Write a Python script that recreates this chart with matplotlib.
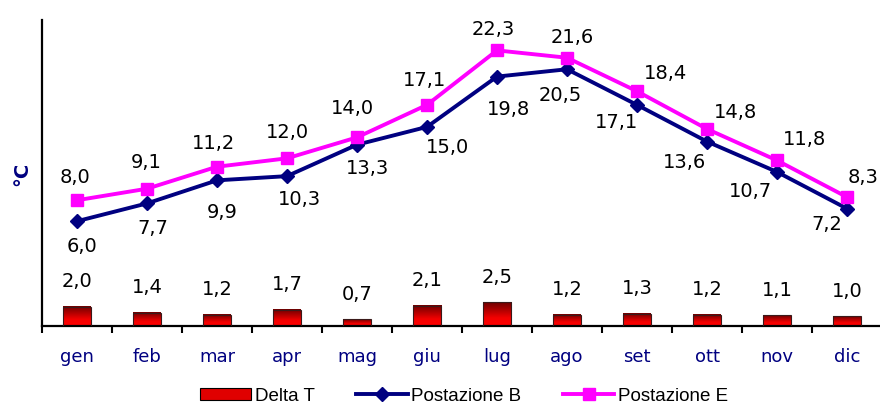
import numpy as np
import matplotlib
matplotlib.use("Agg")
import matplotlib.pyplot as plt
from matplotlib.colors import LinearSegmentedColormap
from matplotlib.patches import Rectangle
from matplotlib.lines import Line2D

# Monthly temperatures (°C)
mesi = ["gen", "feb", "mar", "apr", "mag", "giu", "lug", "ago", "set", "ott", "nov", "dic"]
postazione_b = [6.0, 7.7, 9.9, 10.3, 13.3, 15.0, 19.8, 20.5, 17.1, 13.6, 10.7, 7.2]
postazione_e = [8.0, 9.1, 11.2, 12.0, 14.0, 17.1, 22.3, 21.6, 18.4, 14.8, 11.8, 8.3]
delta_t = [2.0, 1.4, 1.2, 1.7, 0.7, 2.1, 2.5, 1.2, 1.3, 1.2, 1.1, 1.0]

# label offsets in pixels (dx, dy) for each line point
off_b = [(5, -24), (6, -24), (5, -31), (12, -22), (10, -23), (20, -20),
         (11, -32), (-7, -25), (-21, -17), (-23, -20), (-27, -19), (-20, -15)]
off_e = [(-2, 24), (-1, 27), (-4, 24), (0, 27), (-5, 30), (-3, 25),
         (-4, 22), (5, 21), (28, 19), (28, 17), (27, 22), (16, 21)]

NAVY = "#000080"
MAGENTA = "#FF00FF"
LABEL_SIZE = 14


def fmt(v):
    return f"{v:.1f}".replace(".", ",")


fig = plt.figure(figsize=(8.8, 4.06), dpi=100)
ax = fig.add_axes([42 / 880, 1 - 327 / 406, 840 / 880, 306 / 406])
x = np.arange(len(mesi))

# bars with vertical red gradient
grad = LinearSegmentedColormap.from_list("rosso", ["#FF0000", "#F40000", "#B00000", "#6E0000"])
bw = 0.4
for xi, v in zip(x, delta_t):
    g = np.linspace(0, 1, 64).reshape(-1, 1)
    ax.imshow(g, cmap=grad, origin="lower", aspect="auto",
              extent=[xi - bw / 2, xi + bw / 2, 0, v], zorder=2)
    ax.add_patch(Rectangle((xi - bw / 2, 0), bw, v, fill=False,
                           edgecolor="#3a1a1a", linewidth=0.8, zorder=3))
    ax.annotate(fmt(v), (xi, v), xytext=(0, 26), textcoords="offset pixels",
                ha="center", va="center", fontsize=LABEL_SIZE, color="black")

ax.set_xlim(-0.5, 11.5)
ax.set_ylim(0, 32)
ax.set_xticks(x)
ax.set_xticklabels(mesi, color=NAVY, fontsize=13)
ax.set_xticks(np.arange(-0.5, 12, 1), minor=True)
ax.tick_params(axis="x", which="major", length=0, pad=15)
ax.tick_params(axis="x", which="minor", length=5, width=1.5, direction="out")
ax.set_yticks([])
for s in ["top", "right"]:
    ax.spines[s].set_visible(False)
for s in ["left", "bottom"]:
    ax.spines[s].set_linewidth(1.6)
ax.set_ylabel("°C", color=NAVY, fontsize=14, fontweight="bold", labelpad=8)

# temperature lines on a second scale
ax2 = ax.twinx()
ax2.set_ylim(-4, 25.2)
ax2.set_yticks([])
for s in ax2.spines.values():
    s.set_visible(False)
ax2.plot(x, postazione_b, color=NAVY, lw=2.8, marker="D", ms=7.5, zorder=4)
ax2.plot(x, postazione_e, color=MAGENTA, lw=2.8, marker="s", ms=8.5, zorder=5)
for xi, vb, ve, ob, oe in zip(x, postazione_b, postazione_e, off_b, off_e):
    ax2.annotate(fmt(vb), (xi, vb), xytext=ob, textcoords="offset pixels",
                 ha="center", va="center", fontsize=LABEL_SIZE)
    ax2.annotate(fmt(ve), (xi, ve), xytext=oe, textcoords="offset pixels",
                 ha="center", va="center", fontsize=LABEL_SIZE)

handles = [
    Rectangle((0, 0), 1, 1, facecolor="#E00000", edgecolor="black", linewidth=0.8),
    Line2D([], [], color=NAVY, lw=2.8, marker="D", ms=7.5),
    Line2D([], [], color=MAGENTA, lw=2.8, marker="s", ms=8.5),
]
fig.legend(handles, ["Delta T", "Postazione B", "Postazione E"], loc="center",
           bbox_to_anchor=(464 / 880, 9 / 406), ncol=3, frameon=False,
           prop={"family": "Liberation Sans", "size": 13.5},
           handlelength=2.75, handleheight=0.6, handletextpad=0.2,
           columnspacing=2.2, borderpad=0)

fig.savefig("out.png", dpi=100)
